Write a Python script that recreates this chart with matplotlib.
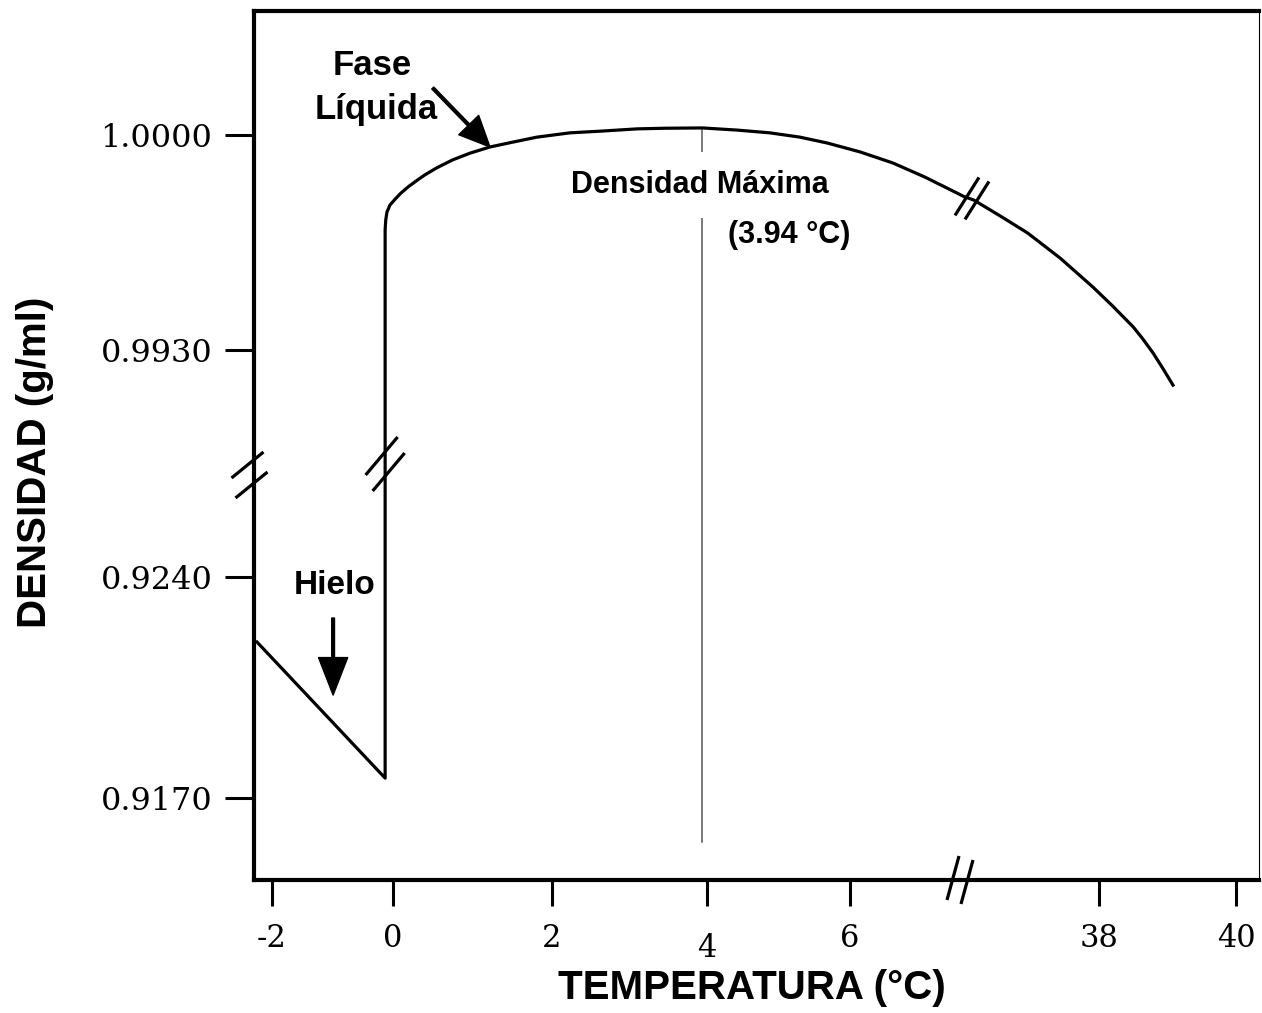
import numpy as np
import matplotlib.pyplot as plt

plt.rcParams['font.family'] = ['Liberation Sans', 'DejaVu Sans']

temp_hielo = [-2.25, -0.13]
dens_hielo = [0.92194, 0.91763]

temp_liq_a = [-0.13, -0.12, -0.10, -0.05, 0.03, 0.10, 0.19, 0.29, 0.40, 0.55, 0.75,
              0.97, 1.22, 1.51, 1.81, 2.23, 2.66, 3.10, 3.46, 3.94, 4.42, 4.88,
              5.30, 5.68, 6.14, 6.60, 7.05, 7.50]
dens_liq_a = [0.99691, 0.99723, 0.99749, 0.99772, 0.99792, 0.99811, 0.99831, 0.99850,
              0.99870, 0.99893, 0.99919, 0.99941, 0.99961, 0.99977, 0.99993, 1.00007,
              1.00013, 1.00020, 1.00022, 1.00023, 1.00016, 1.00007, 0.99993, 0.99974,
              0.99945, 0.99909, 0.99863, 0.99811]

temp_liq_b = [36.0, 36.16, 36.55, 36.95, 37.43, 37.91, 38.20, 38.50, 38.64, 38.79, 38.93, 39.08]
dens_liq_b = [0.99801, 0.99788, 0.99736, 0.99681, 0.99599, 0.99505, 0.99443, 0.99375,
              0.99336, 0.99290, 0.99241, 0.99186]

t_max = 3.94
d_max = 1.00023
d_linea_min = 0.91561

temp_ticks = [-2, 0, 2, 4, 6, 38, 40]
dens_ticks = [0.9170, 0.9240, 0.9930, 1.0000]
dens_labels = ["0.9170", "0.9240", "0.9930", "1.0000"]

# ---- escalas con corte (temperatura: 7.5 -> 36 ; densidad: 0.9275 -> 0.9893) ----
t_ancla = [-2.3, -2, 0, 2, 4, 6, 7.5, 36, 38, 40, 40.4]
u_ancla = [254, 272, 393, 552, 707, 850, 957, 963, 1099, 1236, 1263]
d_ancla = [0.9144, 0.9170, 0.9240, 0.9275, 0.9893, 0.9930, 1.0000, 1.0042]
v_ancla = [880, 798, 577, 466, 464, 350, 135, 6]


def px(t):
    return np.interp(t, t_ancla, u_ancla)


def py(d):
    return np.interp(d, d_ancla, v_ancla)


def marca_corte(ax, cx, cy, sep, medio):
    for s in (-1, 1):
        x0 = cx + s * sep[0]
        y0 = cy + s * sep[1]
        ax.plot([x0 - medio[0], x0 + medio[0]], [y0 - medio[1], y0 + medio[1]],
                color='black', lw=2.3, clip_on=False, solid_capstyle='butt', zorder=5)


fig = plt.figure(figsize=(12.62, 10.13), dpi=100)
ax = fig.add_axes([254 / 1262, 1 - 880 / 1013, (1259 - 254) / 1262, (880 - 11) / 1013])
ax.set_xlim(254, 1259)
ax.set_ylim(880, 11)

# curva completa: hielo + fusion + liquido
temp = temp_hielo + temp_liq_a + temp_liq_b
dens = dens_hielo + dens_liq_a + dens_liq_b
ax.plot(px(temp), py(dens), color='black', lw=2.3, solid_joinstyle='round')

# linea de densidad maxima
ax.plot([px(t_max), px(t_max)], [py(d_max), py(d_linea_min)], color='#555555', lw=1.1, zorder=1)

# ejes
for lado in ['left', 'bottom', 'top']:
    ax.spines[lado].set_linewidth(3)
ax.spines['right'].set_linewidth(0.8)

ax.set_xticks(px(temp_ticks), [str(t) for t in temp_ticks], fontfamily='DejaVu Serif')
ax.set_yticks(py(dens_ticks), dens_labels, fontfamily='DejaVu Serif')
ax.tick_params(axis='x', direction='out', length=19, width=2.2, pad=12, labelsize=22)
ax.tick_params(axis='y', direction='out', length=21, width=2.2, pad=9, labelsize=23)
ax.get_xticklabels()[3].set_y(-0.011)

# marcas de corte
marca_corte(ax, 249.5, 475, (2, 10), (16, -13))
marca_corte(ax, px(-0.13), 464, (3.5, 8), (16, -19))
marca_corte(ax, (px(7.5) + px(36)) / 2, 880, (7, 2), (6, -22))
marca_corte(ax, 972, np.interp(972, px(temp_liq_b), py(dens_liq_b)) - 1, (5, 2), (12, -19))

# textos
ax.text(372, 66, "Fase", fontsize=25, fontweight='bold', ha='center', va='center')
ax.text(376, 110, "Líquida", fontsize=25, fontweight='bold', ha='center', va='center')
ax.annotate('', xy=(px(1.22), py(0.99961)), xytext=(px(0.50), py(1.00153)),
            arrowprops=dict(facecolor='black', edgecolor='black', width=2,
                            headwidth=20, headlength=22, shrink=0))

ax.text(700, 185, "Densidad Máxima", fontsize=22, fontweight='bold', ha='center', va='center',
        bbox=dict(facecolor='white', edgecolor='none', pad=13), zorder=3)
ax.text(789, 235, "(3.94 °C)", fontsize=22, fontweight='bold', ha='center', va='center')

ax.text(335, 586, "Hielo", fontsize=24, fontweight='bold', ha='center', va='center')
ax.annotate('', xy=(px(-0.99), py(0.92026)), xytext=(px(-0.99), py(0.92270)),
            arrowprops=dict(facecolor='black', edgecolor='black', width=2,
                            headwidth=21, headlength=27, shrink=0))

fig.text(752 / 1262, 1 - 988 / 1013, "TEMPERATURA (°C)", fontsize=29, fontweight='bold',
         ha='center', va='center')
fig.text(35 / 1262, 1 - 462 / 1013, "DENSIDAD (g/ml)", fontsize=29, fontweight='bold',
         ha='center', va='center', rotation=90)

fig.savefig("out.png", dpi=100)
